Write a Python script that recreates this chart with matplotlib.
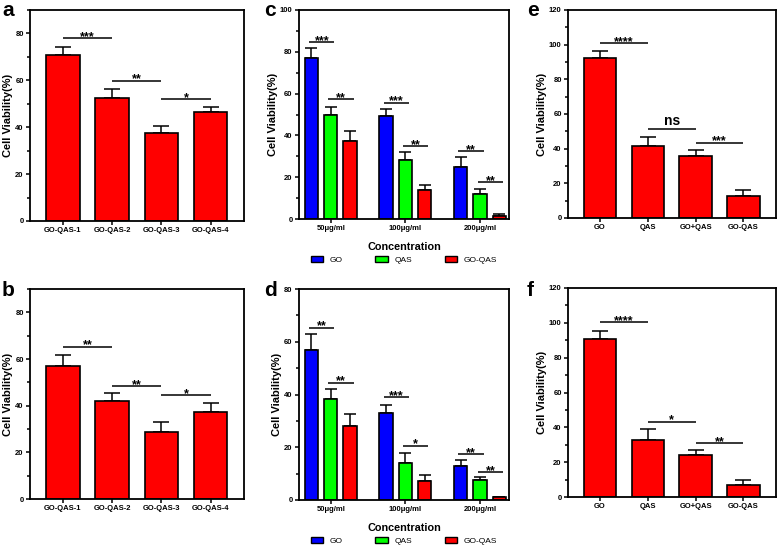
import numpy as np
import matplotlib
matplotlib.use('Agg')
import matplotlib.pyplot as plt
from matplotlib.ticker import MultipleLocator
from matplotlib.patches import Patch

plt.rcParams['font.family'] = ['Liberation Sans', 'DejaVu Sans']
plt.rcParams['axes.linewidth'] = 1.3

# panels a / b
qas_labels = ['GO-QAS-1', 'GO-QAS-2', 'GO-QAS-3', 'GO-QAS-4']
a_mean = [71.0, 52.6, 37.7, 46.4]
a_sd = [3.3, 3.6, 2.9, 2.1]
a_sig = [(0, 1, 77.9, '***'), (1, 2, 59.9, '**'), (2, 3, 52.1, '*')]
b_mean = [57.2, 41.8, 28.8, 37.1]
b_sd = [4.7, 3.5, 4.4, 4.0]
b_sig = [(0, 1, 65.3, '**'), (1, 2, 48.5, '**'), (2, 3, 44.6, '*')]

# panels c / d
conc_labels = ['50μg/ml', '100μg/ml', '200μg/ml']
series_names = ['GO', 'QAS', 'GO-QAS']
series_colors = ['#0000ff', '#00ff00', '#ff0000']
c_mean = [[76.8, 49.5, 24.9], [49.8, 28.1, 11.8], [37.5, 13.7, 1.3]]
c_sd = [[4.8, 2.9, 4.9], [4.0, 4.0, 2.7], [4.7, 2.4, 1.1]]
# (group, series1, series2, y, text)
c_sig = [(0, 0, 1, 84.5, '***'), (0, 1, 2, 57.3, '**'),
         (1, 0, 1, 55.6, '***'), (1, 1, 2, 35.0, '**'),
         (2, 0, 1, 32.4, '**'), (2, 1, 2, 17.6, '**')]
d_mean = [[56.8, 32.8, 12.8], [38.3, 14.1, 7.7], [28.0, 7.1, 1.0]]
d_sd = [[6.0, 3.2, 2.4], [3.8, 3.7, 1.1], [4.7, 2.4, 0.2]]
d_sig = [(0, 0, 1, 65.4, '**'), (0, 1, 2, 44.5, '**'),
         (1, 0, 1, 38.9, '***'), (1, 1, 2, 20.6, '*'),
         (2, 0, 1, 17.3, '**'), (2, 1, 2, 10.6, '**')]

# panels e / f
mix_labels = ['GO', 'QAS', 'GO+QAS', 'GO-QAS']
e_mean = [92.4, 41.3, 35.9, 12.5]
e_sd = [4.2, 5.7, 3.3, 3.8]
e_sig = [(0, 1, 100.8, '****'), (1, 2, 51.6, 'ns'), (2, 3, 43.4, '***')]
f_mean = [90.6, 32.6, 24.0, 6.7]
f_sd = [4.8, 6.2, 2.9, 3.1]
f_sig = [(0, 1, 100.2, '****'), (1, 2, 43.2, '*'), (2, 3, 31.1, '**')]

W, H = 778, 548
fig = plt.figure(figsize=(W / 100, H / 100), dpi=100)


def add_ax(l, r, t, b):
    return fig.add_axes([l / W, 1 - b / H, (r - l) / W, (b - t) / H])


def style(ax, ymax, major=20):
    ax.set_ylim(0, ymax)
    ax.yaxis.set_major_locator(MultipleLocator(major))
    ax.yaxis.set_minor_locator(MultipleLocator(major / 2))
    ax.tick_params(axis='both', which='major', labelsize=5.5, length=3, width=1.1, pad=1.5)
    ax.tick_params(axis='y', which='minor', length=2, width=1.1)
    for lab in ax.get_xticklabels() + ax.get_yticklabels():
        lab.set_fontweight('bold')
    ax.set_ylabel('Cell Viability(%)', fontsize=8, fontweight='bold', labelpad=1.5)


def sig_line(ax, x1, x2, y, txt):
    ax.plot([x1, x2], [y, y], color='black', lw=1.1, solid_capstyle='butt')
    if txt == 'ns':
        ax.annotate(txt, ((x1 + x2) / 2, y), xytext=(0, 0.5), textcoords='offset points',
                    ha='center', va='bottom', fontsize=10, fontweight='bold')
    else:
        ax.annotate(txt, ((x1 + x2) / 2, y), xytext=(0, -3.5), textcoords='offset points',
                    ha='center', va='bottom', fontsize=9, fontweight='bold')


def single_panel(ax, labels, mean, sd, sig, ymax):
    x = np.arange(len(labels))
    ax.bar(x, mean, width=0.68, color='#ff0000', edgecolor='black', linewidth=1.2, zorder=2)
    ax.errorbar(x, mean, yerr=[np.zeros(len(sd)), sd], fmt='none', ecolor='black',
                elinewidth=1.1, capsize=6, capthick=1.1, zorder=1)
    for i, j, y, t in sig:
        sig_line(ax, x[i], x[j], y, t)
    ax.set_xticks(x)
    ax.set_xticklabels(labels)
    ax.set_xlim(-0.67, len(labels) - 1 + 0.68)
    style(ax, ymax)


def group_panel(ax, mean, sd, sig, ymax):
    x = np.arange(len(conc_labels))
    off = [-0.26, 0.0, 0.26]
    for k in range(3):
        ax.bar(x + off[k], mean[k], width=0.18, color=series_colors[k], edgecolor='black',
               linewidth=1.2, zorder=2)
        ax.errorbar(x + off[k], mean[k], yerr=[np.zeros(3), sd[k]], fmt='none', ecolor='black',
                    elinewidth=1.1, capsize=4, capthick=1.1, zorder=1)
    for g, s1, s2, y, t in sig:
        sig_line(ax, x[g] + off[s1] - 0.03, x[g] + off[s2] + 0.05, y, t)
    ax.set_xticks(x)
    ax.set_xticklabels(conc_labels)
    ax.set_xlim(-0.425, 2.39)
    style(ax, ymax)
    ax.set_xlabel('Concentration', fontsize=7.8, fontweight='bold', labelpad=7)
    handles = [Patch(facecolor=series_colors[k], edgecolor='black', linewidth=1.0,
                     label=series_names[k]) for k in range(3)]
    h = ax.get_position().height * H
    ax.legend(handles=handles, loc='center', bbox_to_anchor=(0.5, -41 / h), ncol=3,
              frameon=False, fontsize=6, handlelength=1.5, handleheight=0.75,
              columnspacing=3.9, handletextpad=0.8, borderaxespad=0, borderpad=0)


ax_a = add_ax(30, 244, 10, 221)
single_panel(ax_a, qas_labels, a_mean, a_sd, a_sig, 90)
ax_b = add_ax(30, 244, 289, 499)
single_panel(ax_b, qas_labels, b_mean, b_sd, b_sig, 90)
ax_c = add_ax(299, 509, 10, 219)
group_panel(ax_c, c_mean, c_sd, c_sig, 100)
ax_d = add_ax(299, 509, 289, 500)
group_panel(ax_d, d_mean, d_sd, d_sig, 80)
ax_e = add_ax(568, 776, 10, 218)
single_panel(ax_e, mix_labels, e_mean, e_sd, e_sig, 120)
ax_f = add_ax(568, 776, 288, 497)
single_panel(ax_f, mix_labels, f_mean, f_sd, f_sig, 120)

for letter, (px, py) in zip('abcdef', [(2, 1), (2, 281), (264, 1), (264, 281), (527, 1), (527, 281)]):
    fig.text(px / W, 1 - py / H, letter, fontsize=15, fontweight='bold', ha='left', va='top')

fig.savefig('out.png', dpi=100)
